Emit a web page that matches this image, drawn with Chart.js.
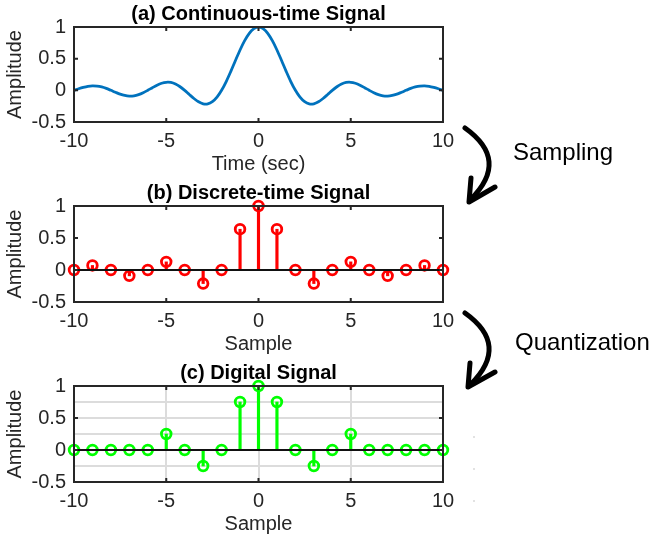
<!DOCTYPE html>
<html>
<head>
<meta charset="utf-8">
<script src="https://cdn.jsdelivr.net/npm/chart.js@4.4.0/dist/chart.umd.min.js"></script>
<style>
body{margin:0;background:#fff;}
#fig{position:relative;width:653px;height:539px;overflow:hidden;font-family:"Liberation Sans",Arial,sans-serif;}
.panel{position:absolute;left:0;width:653px;height:180px;}
.panel canvas{display:block;}
#overlay{position:absolute;left:0;top:0;pointer-events:none;}
</style>
</head>
<body>
<div id="fig">
  <div class="panel" style="top:0"><canvas id="contChart" width="653" height="180"></canvas></div>
  <div class="panel" style="top:180px"><canvas id="discChart" width="653" height="180"></canvas></div>
  <div class="panel" style="top:360px"><canvas id="digiChart" width="653" height="180"></canvas></div>
  <svg id="overlay" width="653" height="539">
    <g fill="none" stroke="#000" stroke-width="5" stroke-linecap="round" stroke-linejoin="round">
      <path d="M465,128 Q510,160 471,199"/>
      <path d="M471,178 L469,202 L495,187"/>
      <path d="M465,313 Q510,345 471,384"/>
      <path d="M470,363 L468,387 L495,372"/>
    </g>
    <g font-family="Liberation Sans, Arial, sans-serif" font-size="24" fill="#000">
      <text x="513" y="160">Sampling</text>
      <text x="515" y="350">Quantization</text>
    </g>
    <g fill="#d8d8d8">
      <circle cx="474" cy="437" r="1"/>
      <circle cx="474" cy="469" r="1"/>
      <circle cx="474" cy="501" r="1"/>
    </g>
  </svg>
</div>
<script>
// continuous sinc, sampled every 0.25 s
const timeSec = [
  -10, -9.75, -9.5, -9.25, -9, -8.75, -8.5, -8.25, -8, -7.75, -7.5, -7.25, -7, -6.75, -6.5, -6.25,
  -6, -5.75, -5.5, -5.25, -5, -4.75, -4.5, -4.25, -4, -3.75, -3.5, -3.25, -3, -2.75, -2.5, -2.25,
  -2, -1.75, -1.5, -1.25, -1, -0.75, -0.5, -0.25, 0, 0.25, 0.5, 0.75, 1, 1.25, 1.5, 1.75,
  2, 2.25, 2.5, 2.75, 3, 3.25, 3.5, 3.75, 4, 4.25, 4.5, 4.75, 5, 5.25, 5.5, 5.75,
  6, 6.25, 6.5, 6.75, 7, 7.25, 7.5, 7.75, 8, 8.25, 8.5, 8.75, 9, 9.25, 9.5, 9.75, 10
];
const contAmp = [
  0, 0.025, 0.047, 0.064, 0.071, 0.067, 0.053, 0.030, 0, -0.031, -0.060, -0.081, -0.091, -0.087, -0.069, -0.039,
  0, 0.042, 0.082, 0.112, 0.127, 0.124, 0.100, 0.057, 0, -0.065, -0.129, -0.181, -0.212, -0.214, -0.180, -0.108,
  0, 0.139, 0.300, 0.471, 0.637, 0.784, 0.900, 0.974, 1, 0.974, 0.900, 0.784, 0.637, 0.471, 0.300, 0.139,
  0, -0.108, -0.180, -0.214, -0.212, -0.181, -0.129, -0.065, 0, 0.057, 0.100, 0.124, 0.127, 0.112, 0.082, 0.042,
  0, -0.039, -0.069, -0.087, -0.091, -0.081, -0.060, -0.031, 0, 0.030, 0.053, 0.067, 0.071, 0.064, 0.047, 0.025, 0
];

// sampled and quantized versions
const sampleIdx = [-10, -9, -8, -7, -6, -5, -4, -3, -2, -1, 0, 1, 2, 3, 4, 5, 6, 7, 8, 9, 10];
const discAmp = [0, 0.071, 0, -0.091, 0, 0.127, 0, -0.212, 0, 0.637, 1, 0.637, 0, -0.212, 0, 0.127, 0, -0.091, 0, 0.071, 0];
const digiAmp = [0, 0, 0, 0, 0, 0.25, 0, -0.25, 0, 0.75, 1, 0.75, 0, -0.25, 0, 0.25, 0, 0, 0, 0, 0];

const panelTitles = ['(a) Continuous-time Signal', '(b) Discrete-time Signal', '(c) Digital Signal'];
const xTitles = ['Time (sec)', 'Sample', 'Sample'];
const yTitle = 'Amplitude';

const FONT = '"Liberation Sans", Arial, Helvetica, sans-serif';
const AX = '#262626';
Chart.defaults.font.family = FONT;
Chart.defaults.color = AX;

const fmt = v => String(Math.round(v * 100) / 100);

// matlab-ish box with inward ticks, plus the bold panel title
const boxAxes = {
  id: 'boxAxes',
  afterDatasetsDraw(chart, args, opts) {
    const {ctx, chartArea: a, scales: {x, y}} = chart;
    ctx.save();
    ctx.strokeStyle = AX;
    ctx.lineWidth = 2;
    ctx.strokeRect(a.left, a.top, a.right - a.left, a.bottom - a.top);
    const len = 4;
    ctx.beginPath();
    x.ticks.forEach(t => {
      const px = x.getPixelForValue(t.value);
      ctx.moveTo(px, a.bottom); ctx.lineTo(px, a.bottom - len);
      ctx.moveTo(px, a.top); ctx.lineTo(px, a.top + len);
    });
    y.ticks.filter(t => t.label !== '').forEach(t => {
      const py = y.getPixelForValue(t.value);
      ctx.moveTo(a.left, py); ctx.lineTo(a.left + len, py);
      ctx.moveTo(a.right, py); ctx.lineTo(a.right - len, py);
    });
    ctx.stroke();
    ctx.fillStyle = '#000';
    ctx.font = 'bold 20px ' + FONT;
    ctx.textAlign = 'center';
    ctx.textBaseline = 'alphabetic';
    ctx.fillText(opts.title, (a.left + a.right) / 2, a.top - 7);
    ctx.restore();
  }
};

function makeOptions(idx, withGrid) {
  const grid = withGrid
    ? {display: true, color: '#dcdcdc', lineWidth: 2, drawTicks: false, offset: false}
    : {display: false, drawTicks: false, offset: false};
  return {
    responsive: false,
    animation: false,
    layout: {padding: {left: 0, right: 210, top: idx === 0 ? 27 : 26, bottom: 0}},
    plugins: {
      legend: {display: false},
      tooltip: {enabled: false},
      boxAxes: {title: panelTitles[idx]}
    },
    scales: {
      x: {
        type: 'linear', min: -10, max: 10, offset: false,
        grid: grid, border: {display: false},
        ticks: {stepSize: 5, autoSkip: false, maxRotation: 0, padding: 7, font: {size: 20}, color: AX, callback: fmt},
        title: {display: true, text: xTitles[idx], font: {size: 20}, color: AX, padding: {top: 0, bottom: 4}},
        afterFit: s => { s.height = 58; }
      },
      y: {
        min: -0.5, max: 1,
        grid: grid, border: {display: false},
        ticks: {
          stepSize: withGrid ? 0.25 : 0.5, autoSkip: false, padding: 8, font: {size: 20}, color: AX,
          callback: v => Math.abs(v * 2 - Math.round(v * 2)) < 1e-6 ? fmt(v) : ''
        },
        title: {display: true, text: yTitle, font: {size: 20}, color: AX, padding: {top: 3, bottom: 0}},
        afterFit: s => { s.width = 74; }
      }
    }
  };
}

function stemDatasets(values, color) {
  const pts = sampleIdx.map((n, i) => ({x: n, y: values[i]}));
  return [
    {type: 'line', data: [{x: -10, y: 0}, {x: 10, y: 0}], borderColor: '#111', borderWidth: 2, pointRadius: 0, order: 0, clip: false},
    {type: 'line', data: pts, showLine: false, pointStyle: 'circle', pointRadius: 4.8, pointBorderWidth: 2.8,
     pointBorderColor: color, pointBackgroundColor: 'rgba(0,0,0,0)', borderColor: color, order: 1, clip: false},
    {type: 'bar', data: pts, backgroundColor: color, borderWidth: 0, barThickness: 2.5, order: 2}
  ];
}

new Chart(document.getElementById('contChart'), {
  type: 'line',
  data: {
    datasets: [{
      data: timeSec.map((t, i) => ({x: t, y: contAmp[i]})),
      borderColor: '#0072BD', borderWidth: 2.8, pointRadius: 0, tension: 0.3, fill: false
    }]
  },
  options: makeOptions(0, false),
  plugins: [boxAxes]
});

new Chart(document.getElementById('discChart'), {
  type: 'bar',
  data: {datasets: stemDatasets(discAmp, '#FF0000')},
  options: makeOptions(1, false),
  plugins: [boxAxes]
});

new Chart(document.getElementById('digiChart'), {
  type: 'bar',
  data: {datasets: stemDatasets(digiAmp, '#00FF00')},
  options: makeOptions(2, true),
  plugins: [boxAxes]
});
</script>
</body>
</html>
